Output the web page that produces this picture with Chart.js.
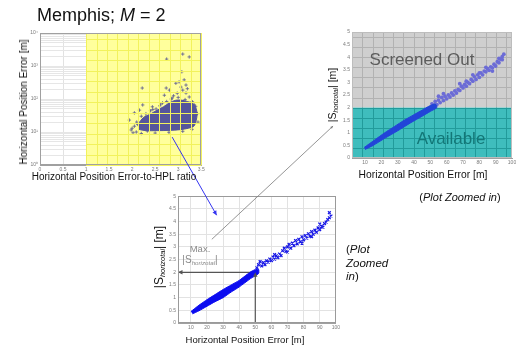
<!DOCTYPE html>
<html lang="en">
<head>
<meta charset="UTF-8">
<title>Memphis; M = 2</title>
<script src="https://cdn.jsdelivr.net/npm/chart.js"></script>
<style>
  body { margin: 0; background: #fff; font-family: "Liberation Sans", Arial, sans-serif; }
  #page { position: relative; width: 522px; height: 346px; overflow: hidden; }
  #page canvas { position: absolute; }
  .t { position: absolute; white-space: nowrap; line-height: 1; transform: translate(-50%, -50%); color: #111; z-index: 4; }
  .r { transform: translate(-50%, -50%) rotate(-90deg); }
  .sub { font-style: italic; font-size: 0.62em; vertical-align: -0.3em; }
</style>
</head>
<body>
<div id="page">
  <canvas id="ratioChart" width="178" height="147" style="left:28px;top:28px"></canvas>
  <canvas id="topChart" width="178" height="141" style="left:338px;top:27px"></canvas>
  <canvas id="botChart" width="177" height="142" style="left:164px;top:191px"></canvas>
  <canvas id="links" width="522" height="346" style="left:0;top:0;z-index:3"></canvas>

  <div class="t" style="left:37px;top:6px;transform:none;font-size:18px">Memphis; <i>M</i> = 2</div>
  <div class="t r" style="left:24px;top:102px;font-size:10px">Horizontal Position Error [m]</div>
  <div class="t" style="left:114px;top:177px;font-size:10px">Horizontal Position Error-to-HPL ratio</div>

  <div class="t" style="left:422px;top:59px;font-size:17px;color:#5c5c5c">Screened Out</div>
  <div class="t" style="left:451px;top:138px;font-size:17px;color:#137777">Available</div>
  <div class="t r" style="left:333px;top:95px;font-size:10.5px">|S<span class="sub">horizotal</span>| [m]</div>
  <div class="t" style="left:423px;top:175px;font-size:10.3px">Horizontal Position Error [m]</div>
  <div class="t" style="left:460px;top:197px;font-size:11px">(<i>Plot Zoomed in</i>)</div>

  <div class="t r" style="left:160px;top:257px;font-size:12px">|S<span class="sub">horizotal</span>| [m]</div>
  <div class="t" style="left:245px;top:340px;font-size:9.5px">Horizontal Position Error [m]</div>
  <div class="t" style="left:200px;top:249px;font-size:9.5px;color:#8a8a8a">Max.</div>
  <div class="t" style="left:200px;top:261px;font-size:10px;color:#8a8a8a">|S<span class="sub">horizotal</span>|</div>
  <div class="t" style="left:346px;top:243px;transform:none;font-size:11.5px;line-height:13.5px">(<i>Plot</i><br><i>Zoomed</i><br><i>in</i>)</div>
</div>

<script>
// top left: error vs error-to-HPL ratio (log y)
const ratioTicks = [0, 0.5, 1, 1.5, 2, 2.5, 3, 3.5];
const ratioDecades = [1, 10, 100, 1000, 10000];
const ratioYellowFrom = 1;
// outline of the dense part of the cloud
const ratioCore = [
  {x:2.14,y:12},{x:2.3,y:11},{x:2.55,y:11},{x:2.8,y:11.2},{x:3.05,y:11.8},{x:3.22,y:13},
  {x:3.34,y:15},{x:3.39,y:22},{x:3.41,y:34},{x:3.39,y:52},{x:3.33,y:72},{x:3.2,y:84},
  {x:3.08,y:92},{x:2.95,y:92},{x:2.82,y:78},{x:2.68,y:58},{x:2.52,y:44},{x:2.38,y:34},
  {x:2.24,y:27},{x:2.15,y:19}
];
const ratioPoints = [
  {x:1.94,y:23},{x:2.05,y:38},{x:2.16,y:46},{x:2.23,y:66},{x:2.22,y:215},{x:2.3,y:29},
  {x:2.44,y:58},{x:2.55,y:38},{x:2.7,y:130},{x:2.74,y:215},{x:2.81,y:186},{x:2.87,y:107},
  {x:2.98,y:150},{x:3.06,y:230},{x:3.1,y:186},{x:3.17,y:152},{x:3.24,y:115},{x:3.08,y:670},
  {x:2.75,y:1620},{x:3.1,y:2300},{x:3.24,y:1880},{x:3.02,y:330},{x:3.13,y:380},{x:3.31,y:81},
  {x:3.35,y:66},{x:2.0,y:13},{x:1.98,y:11.5},{x:2.09,y:10},{x:2.33,y:10.7},{x:2.23,y:14},
  {x:2.66,y:76},{x:2.52,y:50},{x:2.84,y:76},{x:3.17,y:265},{x:2.95,y:300},{x:2.05,y:15},
  {x:2.1,y:20},{x:2.2,y:30},{x:2.3,y:36},{x:2.4,y:44},{x:2.6,y:62},{x:2.75,y:84},
  {x:2.85,y:100},{x:3.0,y:112},{x:3.15,y:96},{x:3.3,y:82},{x:3.38,y:60},{x:3.42,y:36},
  {x:3.43,y:20},{x:2.02,y:9.5},{x:2.2,y:9},{x:2.5,y:9.3},{x:2.8,y:9.8},{x:3.1,y:10.5},
  {x:3.3,y:12},{x:2.12,y:17},{x:2.45,y:48},{x:2.62,y:70},{x:2.9,y:125},{x:3.2,y:205}
];

// zoomed plots: |S_horizontal| vs horizontal error
const errTicks = [10, 20, 30, 40, 50, 60, 70, 80, 90, 100];
const sTicks = [0, 0.5, 1, 1.5, 2, 2.5, 3, 3.5, 4, 4.5, 5];
const maxS = 2;
const maxErr = 50;
const topGridX = [2, 8.3, 14.6, 20.9, 27.2, 33.5, 39.8, 46.1, 52.4, 58.7, 65, 71.3, 77.6, 83.9, 90.2, 96.5];
const topGridY = [0.4, 0.8, 1.2, 1.6, 2, 2.4, 2.8, 3.2, 3.6, 4, 4.4, 4.8];

const topCore = [
  {x:9.5,y:0.42},{x:16,y:0.72},{x:22,y:1.0},{x:28,y:1.25},{x:34,y:1.5},{x:40,y:1.72},
  {x:45,y:1.9},{x:49,y:2.05},{x:53,y:2.15},{x:54,y:2.0},{x:50,y:1.85},{x:45,y:1.66},
  {x:38,y:1.4},{x:30,y:1.08},{x:22,y:0.78},{x:15,y:0.5},{x:10,y:0.34}
];
const topUpper = [
  {x:50,y:2.0},{x:51,y:2.15},{x:52,y:2.05},{x:53,y:2.25},{x:54,y:2.12},{x:55,y:2.3},
  {x:56,y:2.2},{x:57,y:2.4},{x:58,y:2.28},{x:59,y:2.45},{x:60,y:2.35},{x:61,y:2.5},
  {x:62,y:2.42},{x:63,y:2.58},{x:64,y:2.5},{x:65,y:2.66},{x:66,y:2.58},{x:67,y:2.72},
  {x:68,y:2.68},{x:69,y:2.85},{x:70,y:2.78},{x:71,y:2.92},{x:72,y:2.85},{x:73,y:3.0},
  {x:74,y:2.95},{x:75,y:3.12},{x:76,y:3.05},{x:77,y:3.22},{x:78,y:3.12},{x:79,y:3.3},
  {x:80,y:3.2},{x:81,y:3.38},{x:82,y:3.3},{x:83,y:3.45},{x:84,y:3.42},{x:85,y:3.55},
  {x:86,y:3.48},{x:87,y:3.62},{x:88,y:3.58},{x:89,y:3.72},{x:90,y:3.65},{x:91,y:3.82},
  {x:92,y:3.78},{x:93,y:3.92},{x:94,y:4.02},{x:95,y:4.12},{x:94,y:3.9},{x:92,y:3.95},
  {x:88,y:3.45},{x:84,y:3.6},{x:80,y:3.38},{x:76,y:3.3},{x:72,y:3.05},{x:68,y:2.95},
  {x:58,y:2.55},{x:55,y:2.45}
];

const botCore = [
  {x:10,y:0.45},{x:15,y:0.7},{x:20,y:0.92},{x:25,y:1.12},{x:30,y:1.32},{x:35,y:1.5},
  {x:40,y:1.68},{x:45,y:1.92},{x:48,y:2.05},{x:52,y:2.12},{x:52,y:1.95},{x:47,y:1.75},
  {x:40,y:1.42},{x:35,y:1.22},{x:30,y:1.0},{x:25,y:0.84},{x:20,y:0.66},{x:15,y:0.48},
  {x:11,y:0.36}
];
const botUpper = [
  {x:50,y:2.05},{x:51,y:2.18},{x:52,y:2.3},{x:53,y:2.42},{x:54,y:2.25},{x:55,y:2.38},
  {x:56,y:2.3},{x:57,y:2.45},{x:58,y:2.4},{x:59,y:2.52},{x:60,y:2.46},{x:61,y:2.6},
  {x:62,y:2.52},{x:63,y:2.65},{x:64,y:2.58},{x:65,y:2.72},{x:66,y:2.66},{x:67,y:2.85},
  {x:68,y:2.95},{x:69,y:2.82},{x:70,y:3.0},{x:71,y:3.1},{x:72,y:2.95},{x:73,y:3.15},
  {x:74,y:3.05},{x:75,y:3.25},{x:76,y:3.12},{x:77,y:3.3},{x:78,y:3.2},{x:79,y:3.4},
  {x:80,y:3.28},{x:81,y:3.45},{x:82,y:3.35},{x:83,y:3.52},{x:84,y:3.42},{x:85,y:3.6},
  {x:86,y:3.5},{x:87,y:3.66},{x:88,y:3.58},{x:89,y:3.75},{x:90,y:3.68},{x:91,y:3.82},
  {x:92,y:3.78},{x:93,y:3.92},{x:94,y:3.98},{x:95,y:4.08},{x:96,y:4.15},{x:97,y:4.22},
  {x:96,y:4.35},{x:90,y:3.9},{x:85,y:3.4},{x:79,y:3.15},{x:70,y:2.8},{x:62,y:2.7}
];
const maxLines = [
  [{x:maxErr,y:maxS},{x:2,y:maxS}],
  [{x:maxErr,y:0},{x:maxErr,y:maxS}]
];

Chart.defaults.font.family = '"Liberation Sans", Arial, sans-serif';
Chart.defaults.animation = false;
Chart.defaults.plugins.legend.display = false;
Chart.defaults.plugins.tooltip.enabled = false;

const tickFont = { color: '#7a7a7a', font: { size: 5 }, padding: 2, autoSkip: false, maxRotation: 0,
                   callback: v => String(v) };

// keep the plot area where it sits in the picture
function fixSize(prop, px) {
  return s => { s[prop] = px; s.paddingLeft = s.paddingRight = s.paddingTop = s.paddingBottom = 0; };
}
function setTicks(list) {
  return s => { s.ticks = list.map(v => ({ value: v })); };
}
function frame(ctx, a, color) {
  ctx.save();
  ctx.strokeStyle = color; ctx.lineWidth = 1;
  ctx.strokeRect(Math.round(a.left) + 0.5, Math.round(a.top) + 0.5, Math.round(a.width) - 1, Math.round(a.height) - 1);
  ctx.restore();
}
function arrowHead(ctx, p, q, head, color) {
  const ang = Math.atan2(q[1] - p[1], q[0] - p[0]);
  ctx.save();
  ctx.fillStyle = color;
  ctx.beginPath();
  ctx.moveTo(q[0], q[1]);
  ctx.lineTo(q[0] - head * Math.cos(ang - 0.45), q[1] - head * Math.sin(ang - 0.45));
  ctx.lineTo(q[0] - head * Math.cos(ang + 0.45), q[1] - head * Math.sin(ang + 0.45));
  ctx.closePath();
  ctx.fill();
  ctx.restore();
}

const supDigits = ['\u2070', '\u00b9', '\u00b2', '\u00b3', '\u2074'];
const logGrid = [];
ratioDecades.forEach((d, i) => {
  if (i < ratioDecades.length - 1) for (let k = 1; k < 10; k++) logGrid.push(d * k);
  else logGrid.push(d);
});

const ratioDecor = {
  id: 'ratioDecor',
  beforeDatasetsDraw(chart) {
    const { ctx, chartArea: a, scales: { x } } = chart;
    const x0 = x.getPixelForValue(ratioYellowFrom);
    ctx.save();
    ctx.fillStyle = '#ffff9c';
    ctx.fillRect(x0, a.top, a.right - x0, a.height);
    ctx.restore();
  },
  afterDatasetsDraw(chart) {
    const { ctx, chartArea: a, scales: { x } } = chart;
    const x0 = x.getPixelForValue(ratioYellowFrom);
    ctx.save();
    ctx.strokeStyle = '#f2f25c';
    ctx.lineWidth = 1;
    ctx.beginPath();
    const nx = 11, ny = 12.6;
    for (let i = 0; i <= nx; i++) {
      const px = Math.round(x0 + (a.right - x0) * i / nx) + 0.5;
      ctx.moveTo(px, a.top); ctx.lineTo(px, a.bottom);
    }
    for (let j = 0; j < ny; j++) {
      const py = Math.round(a.bottom - a.height * j / ny) + 0.5;
      ctx.moveTo(x0, py); ctx.lineTo(a.right, py);
    }
    ctx.stroke();
    ctx.restore();
    frame(ctx, a, '#a0a0a0');
  }
};

const ratioChart = new Chart(document.getElementById('ratioChart'), {
  type: 'scatter',
  data: {
    datasets: [
      { type: 'line', data: ratioCore, fill: 'shape', backgroundColor: '#55559c', borderColor: '#55559c',
        borderWidth: 1, pointRadius: 0, tension: 0.3 },
      { data: ratioPoints, pointStyle: 'cross', pointRadius: 1.7, borderColor: '#5a5a90', borderWidth: 0.8 }
    ]
  },
  options: {
    responsive: false, devicePixelRatio: 1,
    layout: { padding: { top: 5, right: 4, left: 2, bottom: 0 } },
    scales: {
      x: { type: 'linear', min: 0, max: 3.5, afterBuildTicks: setTicks(ratioTicks), afterFit: fixSize('height', 10),
           grid: { color: '#e2e2e2', drawTicks: false }, border: { color: '#a0a0a0' }, ticks: tickFont },
      y: { type: 'logarithmic', min: 1, max: 10000, afterBuildTicks: setTicks(logGrid), afterFit: fixSize('width', 10),
           grid: { color: '#e6e6e6', drawTicks: false }, border: { color: '#a0a0a0' },
           ticks: Object.assign({}, tickFont, { callback: v => {
             const e = Math.round(Math.log10(v));
             return Math.abs(v - Math.pow(10, e)) < 1e-6 ? '10' + supDigits[e] : '';
           } }) }
    }
  },
  plugins: [ratioDecor]
});

const zoneDecor = {
  id: 'zoneDecor',
  beforeDraw(chart) {
    const { ctx, chartArea: a, scales: { y } } = chart;
    const ys = y.getPixelForValue(maxS);
    ctx.save();
    ctx.fillStyle = '#cfcfcf';
    ctx.fillRect(a.left, a.top, a.width, ys - a.top);
    ctx.fillStyle = '#3fbdbd';
    ctx.fillRect(a.left, ys, a.width, a.bottom - ys);
    ctx.restore();
  },
  beforeDatasetsDraw(chart) {
    const { ctx, chartArea: a, scales: { x, y } } = chart;
    const ys = y.getPixelForValue(maxS);
    ctx.save();
    ctx.lineWidth = 1;
    topGridX.forEach(v => {
      const px = Math.round(x.getPixelForValue(v)) + 0.5;
      ctx.strokeStyle = '#b2b2b2';
      ctx.beginPath(); ctx.moveTo(px, a.top); ctx.lineTo(px, ys); ctx.stroke();
      ctx.strokeStyle = '#229b9b';
      ctx.beginPath(); ctx.moveTo(px, ys); ctx.lineTo(px, a.bottom); ctx.stroke();
    });
    topGridY.forEach(v => {
      const py = Math.round(y.getPixelForValue(v)) + 0.5;
      ctx.strokeStyle = v > maxS ? '#b2b2b2' : '#229b9b';
      ctx.beginPath(); ctx.moveTo(a.left, py); ctx.lineTo(a.right, py); ctx.stroke();
    });
    ctx.restore();
  },
  afterDraw(chart) { frame(chart.ctx, chart.chartArea, '#bdbdbd'); }
};

function errScales(gridOn) {
  return {
    x: { type: 'linear', min: 2, max: 100, afterBuildTicks: setTicks(errTicks), afterFit: fixSize('height', 10),
         grid: { display: gridOn, color: '#e2e2e2', drawTicks: false }, border: { color: '#a0a0a0' }, ticks: tickFont },
    y: { type: 'linear', min: 0, max: 5, afterBuildTicks: setTicks(sTicks), afterFit: fixSize('width', 12),
         grid: { display: gridOn, color: '#e2e2e2', drawTicks: false }, border: { color: '#a0a0a0' }, ticks: tickFont }
  };
}

const topChart = new Chart(document.getElementById('topChart'), {
  type: 'scatter',
  data: {
    datasets: [
      { type: 'line', data: topCore, fill: 'shape', backgroundColor: '#2244d8', borderColor: '#2244d8',
        borderWidth: 1, pointRadius: 0, tension: 0.2 },
      { data: topUpper, pointRadius: 1.9, backgroundColor: '#6c6cd6', borderColor: '#6c6cd6', borderWidth: 0 }
    ]
  },
  options: {
    responsive: false, devicePixelRatio: 1,
    layout: { padding: { top: 5, right: 4, left: 2, bottom: 0 } },
    scales: errScales(false)
  },
  plugins: [zoneDecor]
});

const maxDecor = {
  id: 'maxDecor',
  afterDatasetsDraw(chart) {
    const { ctx, scales: { x, y } } = chart;
    maxLines.forEach(seg => {
      const p = [x.getPixelForValue(seg[0].x), y.getPixelForValue(seg[0].y)];
      const q = [x.getPixelForValue(seg[1].x), y.getPixelForValue(seg[1].y)];
      arrowHead(ctx, p, q, 5, '#555');
    });
  },
  afterDraw(chart) { frame(chart.ctx, chart.chartArea, '#9a9a9a'); }
};

const botChart = new Chart(document.getElementById('botChart'), {
  type: 'scatter',
  data: {
    datasets: [
      { type: 'line', data: botCore, fill: 'shape', backgroundColor: '#0c0cf0', borderColor: '#0c0cf0',
        borderWidth: 1, pointRadius: 0, tension: 0.2 },
      { data: botUpper, pointStyle: 'crossRot', pointRadius: 2, borderColor: '#1818e6', borderWidth: 1.2 },
      { type: 'line', data: maxLines[0], borderColor: '#555', borderWidth: 1.2, pointRadius: 0, fill: false },
      { type: 'line', data: maxLines[1], borderColor: '#555', borderWidth: 1.2, pointRadius: 0, fill: false }
    ]
  },
  options: {
    responsive: false, devicePixelRatio: 1,
    layout: { padding: { top: 5, right: 4, left: 2, bottom: 0 } },
    scales: errScales(true)
  },
  plugins: [maxDecor]
});

// connector lines between the panels
function pagePoint(chart, id, xv, yv) {
  const c = document.getElementById(id);
  return [c.offsetLeft + chart.scales.x.getPixelForValue(xv), c.offsetTop + chart.scales.y.getPixelForValue(yv)];
}
const lctx = document.getElementById('links').getContext('2d');
function link(p, q, color, width, head) {
  lctx.save();
  lctx.strokeStyle = color; lctx.lineWidth = width;
  lctx.beginPath(); lctx.moveTo(p[0], p[1]); lctx.lineTo(q[0], q[1]); lctx.stroke();
  lctx.restore();
  arrowHead(lctx, p, q, head, color);
}
link(pagePoint(ratioChart, 'ratioChart', 2.87, 7), pagePoint(botChart, 'botChart', 26, 4.25), '#3434f0', 1, 5);
link(pagePoint(botChart, 'botChart', 23, 3.3), pagePoint(topChart, 'topChart', -9.6, 1.27), '#7a7a7a', 0.8, 3);
</script>
</body>
</html>
